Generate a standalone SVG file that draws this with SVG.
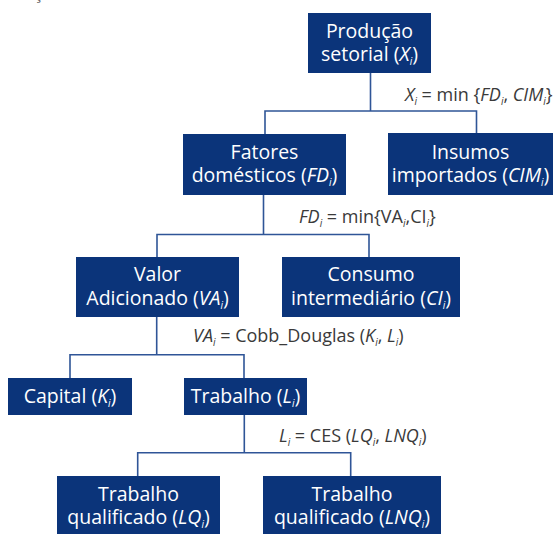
<svg xmlns="http://www.w3.org/2000/svg" width="559" height="534" viewBox="0 0 559 534">
<style>
.box{fill:#0b347a}
.bt{font-family:"Open Sans","Noto Sans",sans-serif;font-size:19.5px;fill:#ffffff;text-anchor:middle}
.lb{font-family:"Open Sans","Noto Sans",sans-serif;font-size:18px;fill:#3a3a3a}
.it{font-style:italic}
.sb{font-size:10px;font-style:italic}
.con{fill:none;stroke:#2f5597;stroke-width:1.6}
</style>
<rect width="559" height="534" fill="#ffffff"/>
<text x="34" y="-1" style="font-family:'Open Sans',sans-serif;font-size:17px;fill:#666">ç</text>
<g id="connectors">
<path class="con" d="M370.5 73V111M265 134V111H476.5V133"/>
<path class="con" d="M263.5 195V234.5M157 257V234.5H369V257"/>
<path class="con" d="M156.7 317V354.7M70 378V354.7H244V378"/>
<path class="con" d="M244.3 415V452.7M137.7 476V452.7H350.7V476"/>
</g>
<g id="labels">
<text class="lb" x="405" y="101"><tspan class="it">X</tspan><tspan class="sb" dy="4">i</tspan><tspan dy="-4"> = min {</tspan><tspan class="it">FD</tspan><tspan class="sb" dy="4">i</tspan><tspan dy="-4">, </tspan><tspan class="it">CIM</tspan><tspan class="sb" dy="4">i</tspan><tspan dy="-4">}</tspan></text>
<text class="lb" x="299" y="223"><tspan class="it">FD</tspan><tspan class="sb" dy="4">i</tspan><tspan dy="-4"> = min{VA</tspan><tspan class="sb" dy="4">i</tspan><tspan dy="-4">,CI</tspan><tspan class="sb" dy="4">i</tspan><tspan dy="-4">}</tspan></text>
<text class="lb" x="193" y="342"><tspan class="it">VA</tspan><tspan class="sb" dy="4">i</tspan><tspan dy="-4"> = Cobb_Douglas (</tspan><tspan class="it">K</tspan><tspan class="sb" dy="4">i</tspan><tspan dy="-4">, </tspan><tspan class="it">L</tspan><tspan class="sb" dy="4">i</tspan><tspan dy="-4">)</tspan></text>
<text class="lb" x="279" y="442"><tspan class="it">L</tspan><tspan class="sb" dy="4">i</tspan><tspan dy="-4"> = CES (</tspan><tspan class="it">LQ</tspan><tspan class="sb" dy="4">i</tspan><tspan dy="-4">, </tspan><tspan class="it">LNQ</tspan><tspan class="sb" dy="4">i</tspan><tspan dy="-4">)</tspan></text>
</g>
<g id="producao">
<rect class="box" x="308" y="13" width="123" height="60"/>
<text class="bt" x="369.5" y="38">Produção</text>
<text class="bt" x="369.5" y="61">setorial (<tspan class="it">X</tspan><tspan class="sb" dy="4">i</tspan><tspan dy="-4">)</tspan></text>
</g>
<g id="fatores">
<rect class="box" x="183" y="134" width="163" height="61"/>
<text class="bt" x="264.5" y="159">Fatores</text>
<text class="bt" x="264.5" y="182">domésticos (<tspan class="it">FD</tspan><tspan class="sb" dy="4">i</tspan><tspan dy="-4">)</tspan></text>
</g>
<g id="insumos">
<rect class="box" x="388" y="133" width="165" height="62"/>
<text class="bt" x="470.5" y="159">Insumos</text>
<text class="bt" x="470.5" y="182">importados (<tspan class="it">CIM</tspan><tspan class="sb" dy="4">i</tspan><tspan dy="-4">)</tspan></text>
</g>
<g id="valor">
<rect class="box" x="76" y="257" width="163" height="60"/>
<text class="bt" x="157.5" y="281">Valor</text>
<text class="bt" x="157.5" y="305">Adicionado (<tspan class="it">VA</tspan><tspan class="sb" dy="4">i</tspan><tspan dy="-4">)</tspan></text>
</g>
<g id="consumo">
<rect class="box" x="282" y="257" width="178" height="60"/>
<text class="bt" x="371" y="281">Consumo</text>
<text class="bt" x="371" y="305">intermediário (<tspan class="it">CI</tspan><tspan class="sb" dy="4">i</tspan><tspan dy="-4">)</tspan></text>
</g>
<g id="capital">
<rect class="box" x="8" y="378" width="124" height="37"/>
<text class="bt" x="70" y="403">Capital (<tspan class="it">K</tspan><tspan class="sb" dy="4">i</tspan><tspan dy="-4">)</tspan></text>
</g>
<g id="trabalho">
<rect class="box" x="184" y="378" width="123" height="37"/>
<text class="bt" x="245.5" y="403">Trabalho (<tspan class="it">L</tspan><tspan class="sb" dy="4">i</tspan><tspan dy="-4">)</tspan></text>
</g>
<g id="lq">
<rect class="box" x="57" y="476" width="163" height="58"/>
<text class="bt" x="138.5" y="501">Trabalho</text>
<text class="bt" x="138.5" y="524">qualificado (<tspan class="it">LQ</tspan><tspan class="sb" dy="4">i</tspan><tspan dy="-4">)</tspan></text>
</g>
<g id="lnq">
<rect class="box" x="263" y="476" width="178" height="58"/>
<text class="bt" x="352" y="501">Trabalho</text>
<text class="bt" x="352" y="524">qualificado (<tspan class="it">LNQ</tspan><tspan class="sb" dy="4">i</tspan><tspan dy="-4">)</tspan></text>
</g>
</svg>
